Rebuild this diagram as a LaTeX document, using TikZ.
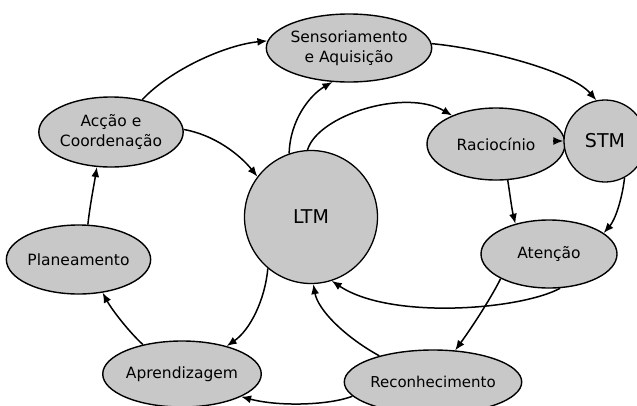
\documentclass[tikz,border=0pt]{standalone}
\usepackage{fontspec}
\setmainfont{DejaVu Sans}
\usetikzlibrary{shapes.geometric,arrows.meta}
\definecolor{nodefill}{RGB}{200,200,200}
\tikzset{
  blob/.style={ellipse, draw=black, line width=1.4pt, fill=nodefill, inner sep=0pt, align=center, font=\fontsize{15.5}{20}\selectfont},
  ring/.style={circle, draw=black, line width=1.3pt, fill=nodefill, inner sep=0pt, font=\fontsize{19}{22}\selectfont},
  arr/.style={line width=1.5pt, -{Latex[length=10pt,width=8pt]}},
}
\begin{document}
\begin{tikzpicture}[x=1pt,y=-1pt]
\useasboundingbox (0,0) rectangle (637,405);
\clip (0,0) rectangle (637,405);
\fill[white] (0,0) rectangle (637,405);

\node[blob, minimum width=134pt, minimum height=68pt] (sens) at (349,48) {Sensoriamento\\e Aquisição};
\node[blob, minimum width=138pt, minimum height=70pt] (acc) at (111,132) {Acção e\\Coordenação};
\node[blob, minimum width=137pt, minimum height=69pt] (plan) at (78.5,259.5) {Planeamento};
\node[blob, minimum width=134pt, minimum height=66pt] (apr) at (182,374) {Aprendizagem};
\node[ring, minimum size=133pt] (ltm) at (311,217) {LTM};
\node[blob, minimum width=138pt, minimum height=72pt] (rac) at (496,144) {Raciocínio};
\node[ring, minimum size=82pt] (stm) at (605,141) {STM};
\node[blob, minimum width=136pt, minimum height=68pt] (ate) at (549,254) {Atenção};
\node[blob, minimum width=136pt, minimum height=64pt, font=\fontsize{15}{18}\selectfont] (rec) at (433,382) {Reconhecimento};

% connectors
\draw[arr] (acc.46) .. controls (170,70) and (225,45) .. (sens.175);
\draw[arr] (acc.2) .. controls (215,135) and (240,155) .. (ltm.143);
\draw[arr] (plan.75) .. controls (90,205) and (94,185) .. (acc.-112);
\draw[arr] (apr.143) .. controls (130,333) and (112,310) .. (plan.-54);
\draw[arr] (ltm.-130) .. controls (265,300) and (250,330) .. (apr.32);
\draw[arr] (rec.-170) .. controls (330,405) and (280,407) .. (apr.-21);
\draw[arr] (rec.154) .. controls (345,337) and (318,310) .. (ltm.-88);
\draw[arr] (ate.-72) .. controls (520,310) and (390,320) .. (ltm.-72);
\draw[arr] (ate.-153) .. controls (490,300) and (470,330) .. (rec.55);
\draw[arr] (rac.-72) .. controls (510,195) and (512,210) .. (ate.138);
\draw[arr] (stm.-62) .. controls (622,200) and (615,220) .. (ate.21);
\draw[arr] ([xshift=-10pt]stm.west) -- (stm.west);
\draw[arr] (sens.3) .. controls (480,48) and (570,70) .. (stm.102);
\draw[arr] (ltm.109) .. controls (290,120) and (310,95) .. (sens.-116);
\draw[arr] (ltm.93) .. controls (318,115) and (405,88) .. (rac.147);
\end{tikzpicture}
\end{document}
